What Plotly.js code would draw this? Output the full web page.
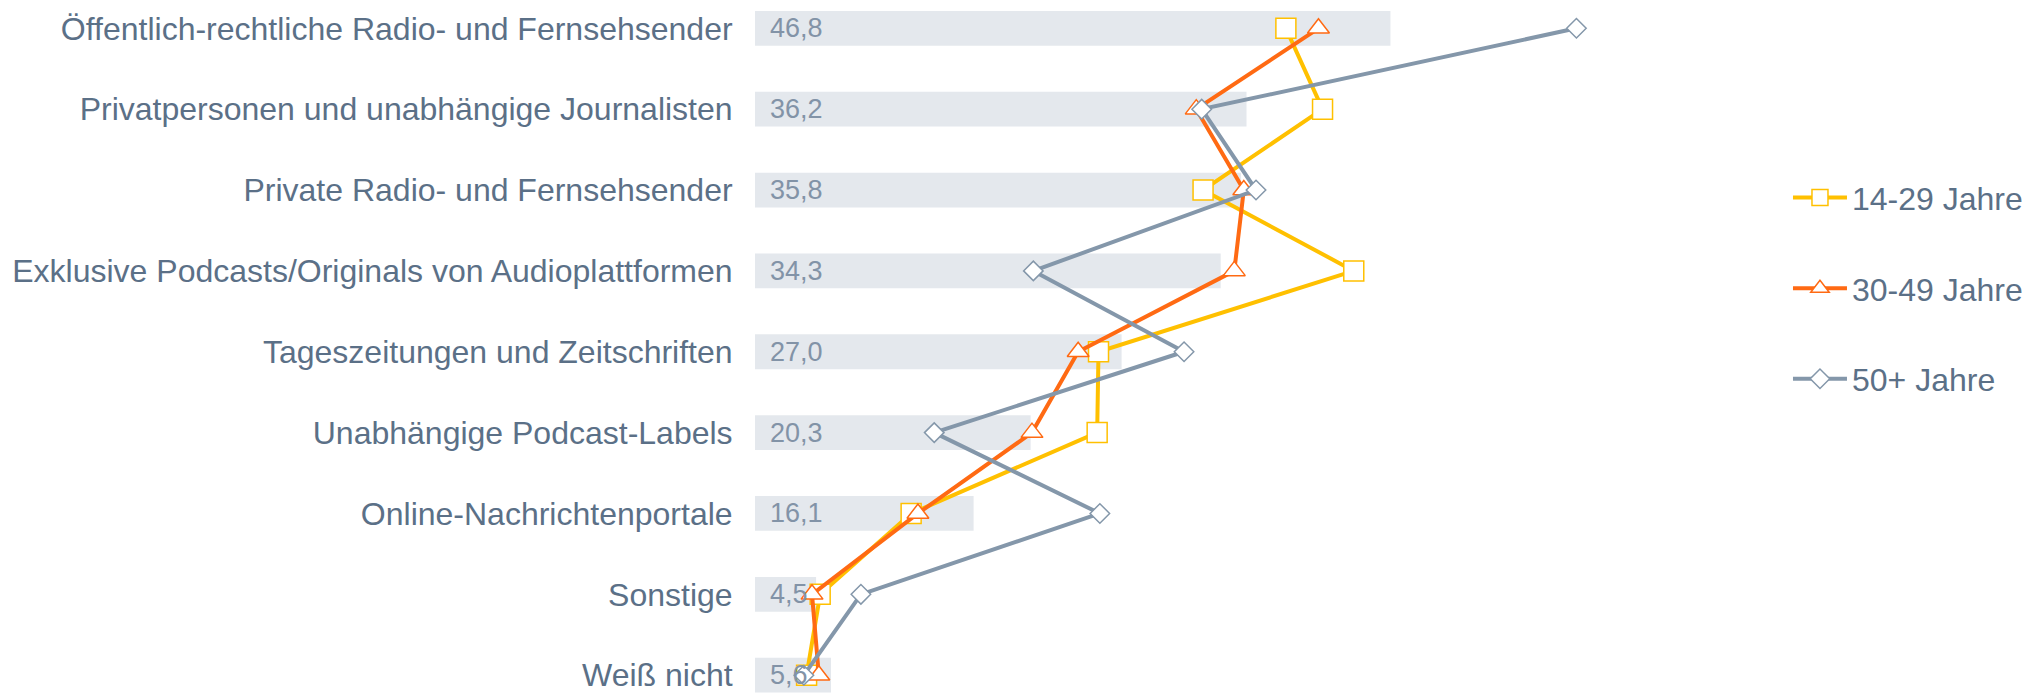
<!DOCTYPE html>
<html>
<head>
<meta charset="utf-8">
<script src="https://cdn.plot.ly/plotly-3.0.1.min.js"></script>
<style>
  html, body { margin: 0; padding: 0; background: #ffffff; }
  #chart { width: 2032px; height: 694px; }
</style>
</head>
<body>
<div id="chart"></div>
<script>
// ---- data ----
const categories = [
  "Öffentlich-rechtliche Radio- und Fernsehsender",
  "Privatpersonen und unabhängige Journalisten",
  "Private Radio- und Fernsehsender",
  "Exklusive Podcasts/Originals von Audioplattformen",
  "Tageszeitungen und Zeitschriften",
  "Unabhängige Podcast-Labels",
  "Online-Nachrichtenportale",
  "Sonstige",
  "Weiß nicht"
];
const totalValues = [46.8, 36.2, 35.8, 34.3, 27.0, 20.3, 16.1, 4.5, 5.6];
const totalLabels = ["46,8", "36,2", "35,8", "34,3", "27,0", "20,3", "16,1", "4,5", "5,6"];
const seriesNames = ["14-29 Jahre", "30-49 Jahre", "50+ Jahre"];
const age14to29 = [39.1, 41.8, 33.0, 44.1, 25.3, 25.2, 11.5, 4.8, 3.8];
const age30to49 = [41.5, 32.5, 36.0, 35.3, 23.8, 20.4, 12.0, 4.2, 4.7];
const age50plus = [60.5, 32.9, 36.9, 20.5, 31.6, 13.2, 25.4, 7.8, 3.6];

// ---- styles ----
const FONT = 'Arial, "Liberation Sans", sans-serif';
const TEXT_COLOR = '#5B7087';
const LABEL_COLOR = '#8293A7';
const BAR_COLOR = '#E4E8ED';
const seriesStyles = [
  { color: '#FFC000', symbol: 'square', size: 20 },
  { color: '#FF6A13', symbol: 'triangle-up', size: 19 },
  { color: '#8497AA', symbol: 'diamond', size: 15 }
];
const seriesData = [age14to29, age30to49, age50plus];

const traces = [{
  type: 'bar',
  orientation: 'h',
  y: categories,
  x: totalValues,
  width: 0.43,
  marker: { color: BAR_COLOR },
  showlegend: false,
  hoverinfo: 'skip'
}];

seriesData.forEach((vals, i) => {
  const st = seriesStyles[i];
  traces.push({
    type: 'scatter',
    mode: 'lines+markers',
    name: seriesNames[i],
    legendgroup: 'g' + i,
    y: categories,
    x: vals,
    line: { color: st.color, width: 4 },
    marker: {
      symbol: st.symbol,
      size: st.size,
      color: '#ffffff',
      line: { color: st.color, width: 1.5 }
    },
    hoverinfo: 'skip'
  });
});

const annotations = categories.map((c, i) => ({
  x: 0, y: c, xref: 'x', yref: 'y',
  text: totalLabels[i],
  showarrow: false,
  xanchor: 'left', yanchor: 'middle',
  xshift: 13,
  font: { family: FONT, size: 27, color: LABEL_COLOR }
}));

const layout = {
  width: 2032, height: 694,
  margin: { l: 755, r: 332, t: 0, b: 0, pad: 0 },
  paper_bgcolor: '#ffffff',
  plot_bgcolor: '#ffffff',
  font: { family: FONT, color: TEXT_COLOR },
  xaxis: {
    range: [0, 69.6],
    showgrid: false, zeroline: false, showline: false,
    showticklabels: false, ticks: ''
  },
  yaxis: {
    type: 'category',
    range: [8.2325, -0.35],
    showgrid: false, zeroline: false, showline: false,
    ticks: 'outside', ticklen: 15, tickcolor: 'rgba(0,0,0,0)',
    tickfont: { family: FONT, size: 32, color: TEXT_COLOR }
  },
  showlegend: true,
  legend: {
    x: 1.0931, xanchor: 'left',
    y: 0.5846, yanchor: 'middle',
    font: { family: FONT, size: 32, color: TEXT_COLOR },
    itemwidth: 54,
    tracegroupgap: 46,
    bgcolor: 'rgba(0,0,0,0)',
    borderwidth: 0
  },
  annotations: annotations,
  bargap: 0.57
};

Plotly.newPlot('chart', traces, layout, { displayModeBar: false, staticPlot: true });
</script>
</body>
</html>
